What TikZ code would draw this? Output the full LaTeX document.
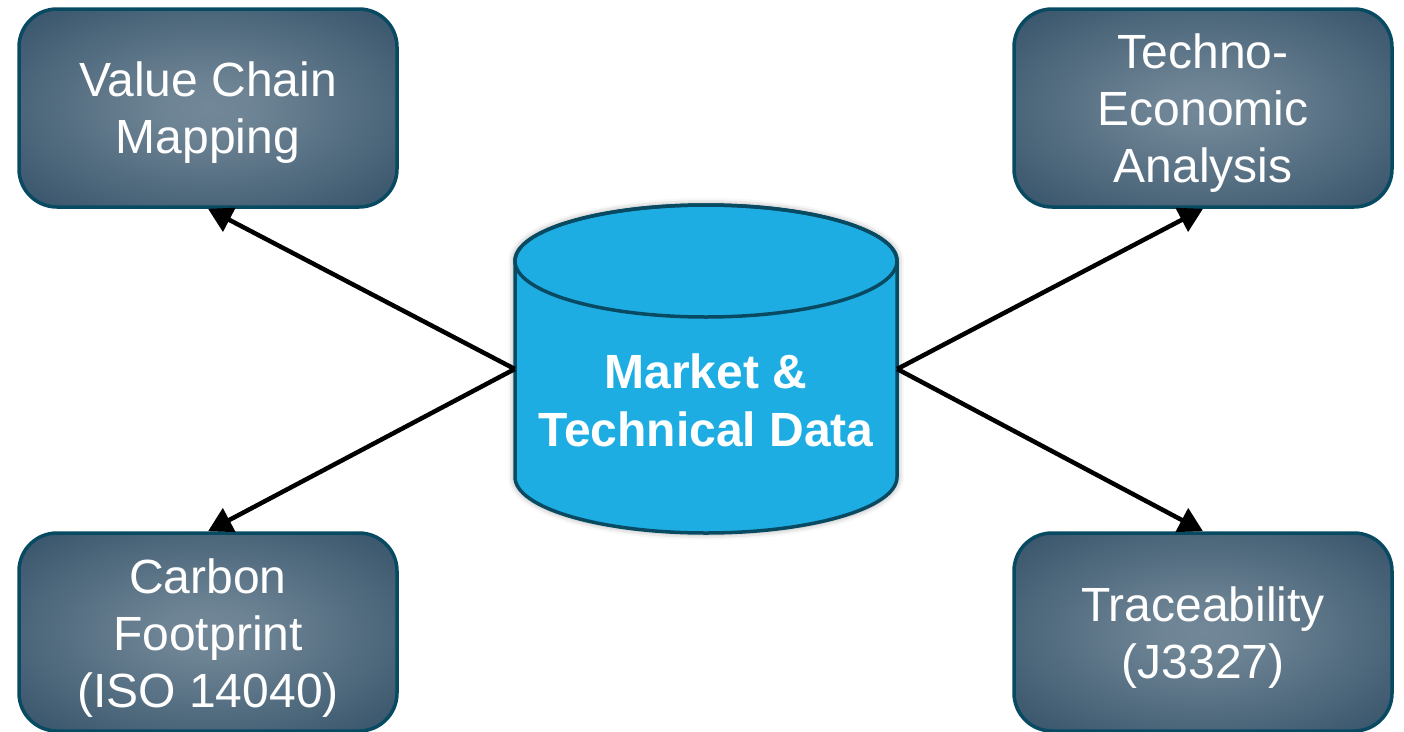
\documentclass[tikz,border=0pt]{standalone}
\usepackage{fontspec}
\setmainfont{Liberation Sans}
\usetikzlibrary{arrows.meta,shadows.blur}
\definecolor{boxin}{RGB}{114,136,152}
\definecolor{boxout}{RGB}{42,72,96}
\definecolor{boxedge}{RGB}{8,74,98}
\definecolor{dbfill}{RGB}{30,173,227}
\definecolor{dbedge}{RGB}{8,74,98}
\pgfdeclareradialshading{boxshade}{\pgfpoint{0bp}{0bp}}{color(0bp)=(boxin); color(6bp)=(boxin!94!boxout); color(42bp)=(boxout); color(100bp)=(boxout)}
\tikzset{
  infobox/.style={rectangle, rounded corners=38pt, draw=boxedge, line width=3.5pt,
    shading=boxshade, minimum width=378pt, minimum height=198pt, inner sep=0pt},
  boxtext/.style={text=white, align=center, font=\fontsize{48}{57}\selectfont},
  conn/.style={line width=4.5pt, draw=black, -{Triangle[length=24pt,width=26pt]}},
  dbtext/.style={text=white, align=center, font=\fontsize{48}{58}\bfseries\selectfont}
}
\begin{document}
\begin{tikzpicture}[x=1pt,y=1pt]
\useasboundingbox (0,0) rectangle (1404,-731);
% boxes
\node[infobox] (vcm) at (208,-108) {};
\node[boxtext] (vcmt) at (208,-113) {Value Chain\\Mapping};
\node[infobox] (tea) at (1203,-108) {};
\node[boxtext] (teat) at (1203,-113) {Techno-\\Economic\\Analysis};
\node[infobox] (cf) at (208,-632) {};
\node[boxtext] (cft) at (208,-638) {Carbon\\Footprint\\(ISO 14040)};
\node[infobox] (tr) at (1203,-632) {};
\node[boxtext] (trt) at (1203,-638) {Traceability\\(J3327)};
% cylinder
\path[fill=dbfill, draw=dbedge, line width=3.5pt,
  blur shadow={shadow xshift=0pt, shadow yshift=0pt, shadow blur radius=7pt, shadow opacity=45}]
  (515,-261) -- (515,-477) arc[start angle=180, end angle=360, x radius=191, y radius=56]
  -- (897,-261) arc[start angle=0, end angle=180, x radius=191, y radius=56] -- cycle;
\draw[dbedge, line width=3.5pt] (706,-261) ellipse[x radius=191, y radius=56];
\node[minimum width=382pt, minimum height=328pt, inner sep=0pt] (db) at (706,-369) {};
\node[dbtext] (dblabel) at (706,-400) {Market \&\\Technical Data};
% connectors
\draw[conn] (db.west) -- (vcm.south);
\draw[conn] (db.west) -- (cf.north);
\draw[conn] (db.east) -- (tea.south);
\draw[conn] (db.east) -- (tr.north);
\end{tikzpicture}
\end{document}
